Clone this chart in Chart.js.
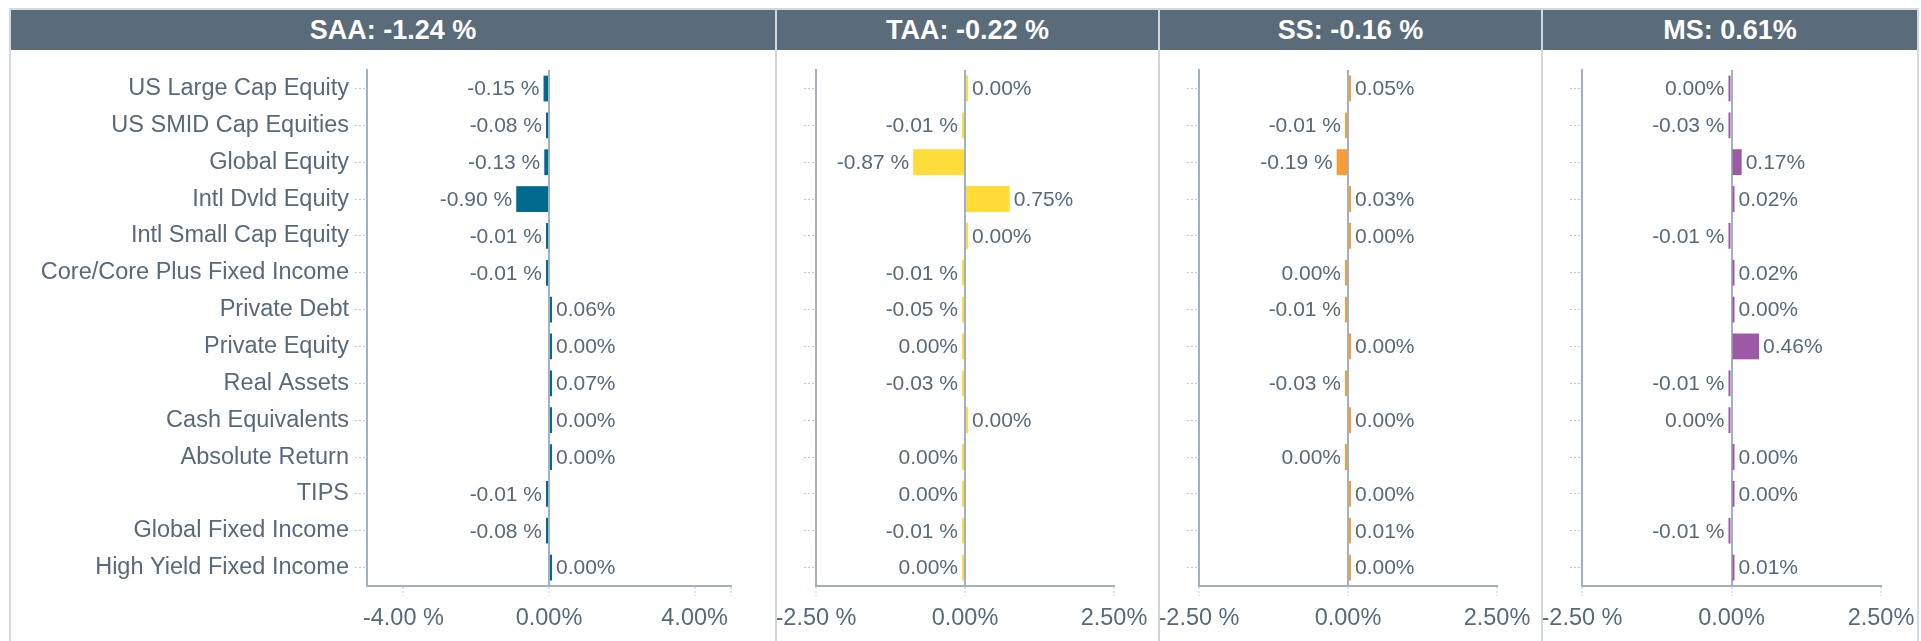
<!DOCTYPE html>
<html>
<head>
<meta charset="utf-8">
<script src="https://cdn.jsdelivr.net/npm/chart.js@4/dist/chart.umd.min.js"></script>
<style>
body { margin: 0; background: #fff; }
#wrap { position: relative; width: 1921px; height: 641px; overflow: hidden; background: #fff; }
.frame { position: absolute; left: 9px; top: 8px; width: 1910px; height: 640px; border: 2px solid #d3d9e0; border-bottom: none; box-sizing: border-box; }
.head { position: absolute; top: 10px; height: 40px; background: #5a6b7a; color: #fff; font: bold 27px "Liberation Sans", Arial, sans-serif; text-align: center; line-height: 41px; }
.sep { position: absolute; top: 10px; height: 631px; width: 2px; background: #cfd6de; }
canvas { position: absolute; top: 50px; }
</style>
</head>
<body>
<div id="wrap">
	<div class="frame"></div>
</div>
<script>
var categories = ['US Large Cap Equity', 'US SMID Cap Equities', 'Global Equity', 'Intl Dvld Equity',
	'Intl Small Cap Equity', 'Core/Core Plus Fixed Income', 'Private Debt', 'Private Equity',
	'Real Assets', 'Cash Equivalents', 'Absolute Return', 'TIPS', 'Global Fixed Income', 'High Yield Fixed Income'];

// tiny +/-0.001 values show as 0.00% but keep their side
var saaValues = [-0.15, -0.08, -0.13, -0.90, -0.01, -0.01, 0.06, 0.001, 0.07, 0.001, 0.001, -0.01, -0.08, 0.001];
var taaValues = [0.001, -0.01, -0.87, 0.75, 0.001, -0.01, -0.05, -0.001, -0.03, 0.001, -0.001, -0.001, -0.01, -0.001];
var ssValues = [0.05, -0.01, -0.19, 0.03, 0.001, -0.001, -0.01, 0.001, -0.03, 0.001, -0.001, 0.001, 0.01, 0.001];
var msValues = [-0.001, -0.03, 0.17, 0.02, -0.01, 0.02, 0.001, 0.46, -0.01, -0.001, 0.001, 0.001, -0.01, 0.01];

var panelTitles = ['SAA: -1.24 %', 'TAA: -0.22 %', 'SS: -0.16 %', 'MS: 0.61%'];
var barColors = ['#006a8e', '#ffdc3a', '#f89c33', '#9b59a8'];

var saaRange = [-5, 5];
var saaTicks = [-4, 0, 4, 5];
var saaTickLabels = ['-4.00 %', '0.00%', '4.00%', ''];
var otherRange = [-2.5, 2.5];
var otherTicks = [-2.5, 0, 2.5];
var otherTickLabels = ['-2.50 %', '0.00%', '2.50%'];

var textColor = '#58697a';
var axisColor = '#a3b0bf';
var tickMarkColor = '#c4c9cf';
var fontFamily = '"Liberation Sans", Arial, sans-serif';

// panel boxes: header left/width, canvas left/width, y axis width, right padding
var panels = [
	{ left: 11, width: 764, cvLeft: 11, cvWidth: 764, yWidth: 356, right: 44 },
	{ left: 777, width: 381, cvLeft: 773, cvWidth: 385, yWidth: 43, right: 44 },
	{ left: 1160, width: 381, cvLeft: 1156, cvWidth: 385, yWidth: 43, right: 44 },
	{ left: 1543, width: 374, cvLeft: 1539, cvWidth: 378, yWidth: 43, right: 36 }
];
var seps = [775, 1158, 1541];

Chart.defaults.font.family = fontFamily;

function formatPct(v) {
	if (Math.abs(v) < 0.005) return '0.00%';
	if (v < 0) return v.toFixed(2) + ' %';
	return v.toFixed(2) + '%';
}

var valueLabels = {
	id: 'valueLabels',
	afterDatasetsDraw: function(chart) {
		var ctx = chart.ctx;
		var meta = chart.getDatasetMeta(0);
		var data = chart.data.datasets[0].data;
		ctx.save();
		ctx.font = '21px ' + fontFamily;
		ctx.fillStyle = textColor;
		ctx.textBaseline = 'middle';
		for (var i = 0; i < meta.data.length; i++) {
			var bar = meta.data[i];
			var txt = formatPct(data[i]);
			if (data[i] < 0) {
				ctx.textAlign = 'right';
				ctx.fillText(txt, Math.min(bar.x, bar.base) - 4, bar.y + 1);
			} else {
				ctx.textAlign = 'left';
				ctx.fillText(txt, Math.max(bar.x, bar.base) + 4, bar.y + 1);
			}
		}
		ctx.restore();
	}
};

function makePanel(i, values) {
	var wrap = document.getElementById('wrap');
	var p = panels[i];

	var head = document.createElement('div');
	head.className = 'head';
	head.style.left = p.left + 'px';
	head.style.width = p.width + 'px';
	head.textContent = panelTitles[i];
	wrap.appendChild(head);

	var cv = document.createElement('canvas');
	cv.width = p.cvWidth;
	cv.height = 591;
	cv.style.left = p.cvLeft + 'px';
	wrap.appendChild(cv);

	var range = i === 0 ? saaRange : otherRange;
	var tickVals = i === 0 ? saaTicks : otherTicks;
	var tickLabels = i === 0 ? saaTickLabels : otherTickLabels;

	new Chart(cv, {
		type: 'bar',
		data: {
			labels: categories,
			datasets: [{
				data: values,
				backgroundColor: barColors[i],
				barPercentage: 0.7,
				categoryPercentage: 1.0,
				minBarLength: 3
			}]
		},
		options: {
			indexAxis: 'y',
			responsive: false,
			animation: false,
			layout: { padding: { top: 20, right: p.right, bottom: 0, left: 0 } },
			plugins: { legend: { display: false }, tooltip: { enabled: false } },
			scales: {
				x: {
					type: 'linear',
					min: range[0],
					max: range[1],
					afterBuildTicks: function(scale) {
						scale.ticks = tickVals.map(function(v) { return { value: v }; });
					},
					afterFit: function(scale) {
						scale.height = 55;
						scale.paddingLeft = 0;
						scale.paddingRight = 0;
					},
					grid: {
						color: function(c) { return c.tick && c.tick.value === 0 ? axisColor : 'rgba(0,0,0,0)'; },
						lineWidth: 2,
						tickLength: 10,
						tickColor: tickMarkColor,
						tickWidth: 1,
						tickBorderDash: [2, 2]
					},
					border: { color: axisColor, width: 2 },
					ticks: {
						autoSkip: false,
						maxRotation: 0,
						padding: 8,
						color: textColor,
						font: { size: 23.5 },
						callback: function(val, idx) { return tickLabels[idx]; }
					}
				},
				y: {
					afterFit: function(scale) { scale.width = p.yWidth; },
					grid: {
						offset: false,
						drawOnChartArea: false,
						tickLength: 12,
						tickColor: tickMarkColor,
						tickWidth: 1,
						tickBorderDash: [2, 2]
					},
					border: { color: axisColor, width: 2 },
					ticks: {
						display: i === 0,
						autoSkip: false,
						padding: 6,
						color: textColor,
						font: { size: 23.5 }
					}
				}
			}
		},
		plugins: [valueLabels]
	});
}

makePanel(0, saaValues);
makePanel(1, taaValues);
makePanel(2, ssValues);
makePanel(3, msValues);

for (var s = 0; s < seps.length; s++) {
	var d = document.createElement('div');
	d.className = 'sep';
	d.style.left = seps[s] + 'px';
	document.getElementById('wrap').appendChild(d);
}
</script>
</body>
</html>
